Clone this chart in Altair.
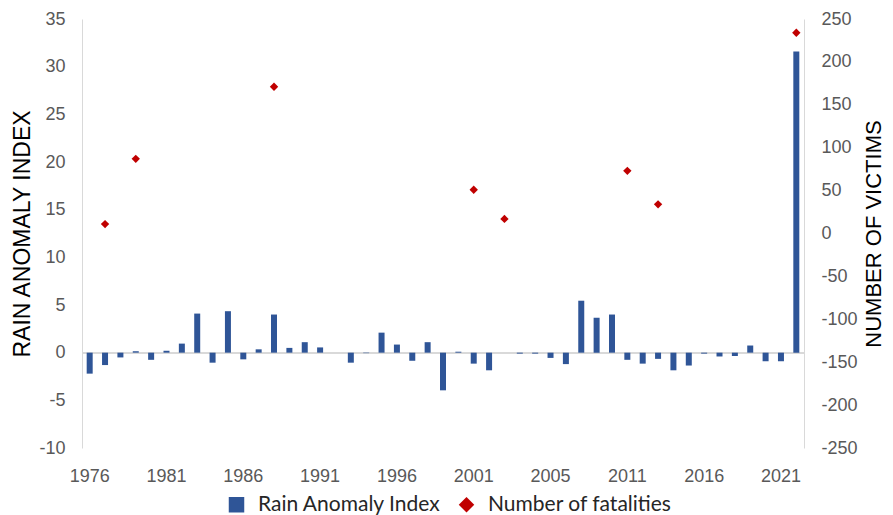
import altair as alt
import pandas as pd

# ---- data ----
years = list(range(1976, 2023))
rain_index = [-2.2, -1.3, -0.5, 0.15, -0.75, 0.2, 0.95, 4.1, -1.05, 4.35,
              -0.7, 0.35, 4.0, 0.5, 1.1, 0.55, 0.0, -1.05, -0.05, 2.1,
              0.85, -0.85, 1.1, -3.95, 0.1, -1.15, -1.85, 0.0, -0.1, -0.1,
              -0.55, -1.2, 5.45, 3.65, 4.0, -0.75, -1.15, -0.65, -1.85, -1.35,
              -0.1, -0.4, -0.35, 0.75, -0.9, -0.9, 31.6]

fatal_years = [1977, 1979, 1988, 2001, 2003, 2011, 2013, 2022]
fatalities = [11, 87, 171, 51, 17, 73, 34, 234]

x_tick_years = [1976, 1981, 1986, 1991, 1996, 2001, 2006, 2011, 2016, 2021]
x_tick_labels = ["1976", "1981", "1986", "1991", "1996", "2001", "2005", "2011", "2016", "2021"]

left_ticks = [-10, -5, 0, 5, 10, 15, 20, 25, 30, 35]
right_ticks = [-250, -200, -150, -100, -50, 0, 50, 100, 150, 200, 250]

series_names = ["Rain Anomaly Index", "Number of fatalities"]
series_colors = ["#2F5597", "#C00000"]
series_shapes = ["square", "diamond"]

# ---- tables ----
bar_df = pd.DataFrame({"year": years, "value": rain_index, "series": series_names[0]})
pt_df = pd.DataFrame({"year": fatal_years, "victims": fatalities, "series": series_names[1]})

label_expr = " : ".join(
    f"datum.value == {y} ? '{l}'" for y, l in zip(x_tick_years, x_tick_labels)
) + " : ''"
hyphen_expr = "replace(datum.label, '\u2212', '-')"

FONT = "Liberation Sans"
LBL = "#595959"

x_enc = alt.X(
    "year:O",
    scale=alt.Scale(domain=years, paddingInner=0.62, paddingOuter=0.31),
    axis=alt.Axis(values=x_tick_years, labelExpr=label_expr, title=None,
                  domain=False, ticks=False, labelAngle=0, labelPadding=19,
                  labelFontSize=18, labelColor=LBL, labelFont=FONT),
)

legend = alt.Legend(title=None, orient="none", direction="horizontal",
                    legendX=144, legendY=475, labelLimit=0,
                    labelFont="Lato", labelFontSize=21, labelColor="#262626",
                    symbolSize=240, symbolStrokeWidth=0, columnPadding=15,
                    labelOffset=11)

color_enc = alt.Color("series:N", scale=alt.Scale(domain=series_names, range=series_colors),
                      legend=legend)
shape_enc = alt.Shape("series:N", scale=alt.Scale(domain=series_names, range=series_shapes),
                      legend=legend)

left_axis = alt.Axis(values=left_ticks, title="RAIN ANOMALY INDEX", grid=False,
                     domainColor="#D9D9D9", ticks=False, labelPadding=17,
                     labelExpr=hyphen_expr,
                     labelFontSize=18, labelColor=LBL, labelFont=FONT,
                     titleFont=FONT, titleFontSize=23, titleFontWeight="normal",
                     titleColor="#000000", titlePadding=4)
left_scale = alt.Scale(domain=[-10, 35], nice=False, zero=False)

bars = alt.Chart(bar_df).mark_bar(size=6).encode(
    x=x_enc,
    y=alt.Y("value:Q", scale=left_scale, axis=left_axis),
    color=color_enc,
    shape=shape_enc,
)

zero_rule = alt.Chart(bar_df).mark_rule(color="#D9D9D9", strokeWidth=1).encode(
    y=alt.Y(datum=0, type="quantitative", scale=left_scale, axis=left_axis),
)

points = alt.Chart(pt_df).mark_point(filled=True, size=70, opacity=1).encode(
    x=x_enc,
    y=alt.Y("victims:Q", scale=alt.Scale(domain=[-250, 250], nice=False, zero=False),
            axis=alt.Axis(orient="right", values=right_ticks, title="NUMBER OF VICTIMS",
                          grid=False, domainColor="#D9D9D9", ticks=False, labelPadding=17,
                          labelExpr=hyphen_expr,
                          labelFontSize=18, labelColor=LBL, labelFont=FONT,
                          titleFont=FONT, titleFontSize=22, titleFontWeight="normal",
                          titleColor="#000000", titlePadding=6, titleAngle=270,
                          titleBaseline="top")),
    color=color_enc,
    shape=shape_enc,
)

chart = alt.layer(alt.layer(zero_rule, bars), points).resolve_scale(
    y="independent"
).properties(
    width=722, height=429,
    padding={"left": 3, "top": 2, "right": 0, "bottom": 0},
    background="white",
).configure_view(stroke=None)

chart.save("out.html", embed_options={"renderer": "svg", "actions": False})
